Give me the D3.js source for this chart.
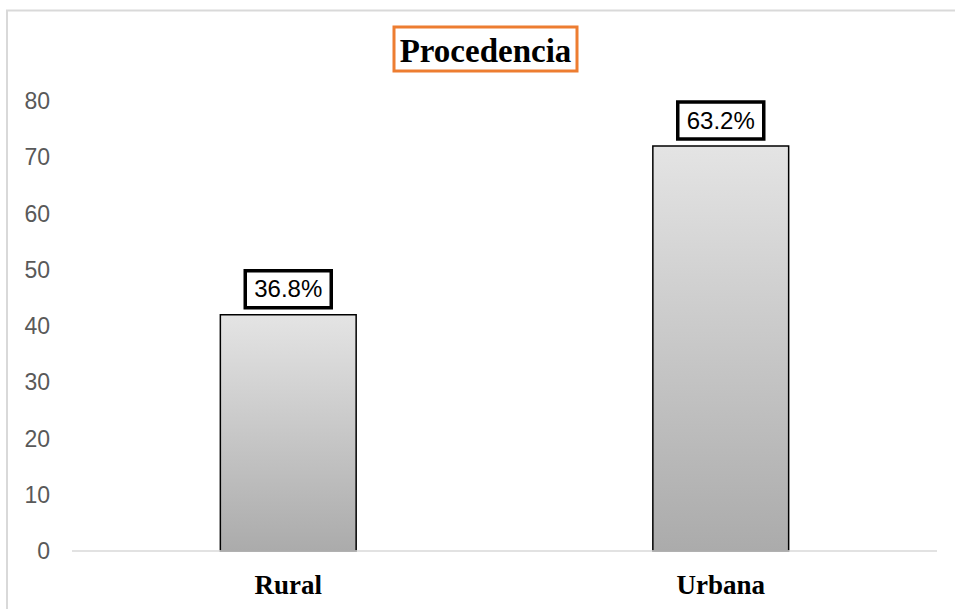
<!DOCTYPE html>
<html><head><meta charset="utf-8">
<script src="https://cdn.jsdelivr.net/npm/d3@7"></script>
<style>body{margin:0;background:#fff}svg{display:block}</style>
</head><body>
<script>
const categories = ["Rural", "Urbana"];
const values = [42, 72];
const labels = ["36.8%", "63.2%"];
const yTicks = [0, 10, 20, 30, 40, 50, 60, 70, 80];
const title = "Procedencia";

const W = 955, H = 609;
const svg = d3.select("body").append("svg").attr("width", W).attr("height", H);

const defs = svg.append("defs");
const grad = defs.append("linearGradient").attr("id", "g").attr("x1", 0).attr("y1", 0).attr("x2", 0).attr("y2", 1);
grad.append("stop").attr("offset", "0%").attr("stop-color", "#e4e4e4");
grad.append("stop").attr("offset", "100%").attr("stop-color", "#ababab");

// chart border
svg.append("rect").attr("x", 7).attr("y", 10.5).attr("width", 960).attr("height", 620)
  .attr("fill", "none").attr("stroke", "#d9d9d9").attr("stroke-width", 2);

const x = d3.scaleBand().domain(categories).range([72, 937]).paddingInner(0.686).paddingOuter(0.343);
const y = d3.scaleLinear().domain([0, 80]).range([551, 101]);

// y tick labels
svg.append("g").selectAll("text").data(yTicks).join("text")
  .attr("x", 50).attr("y", d => y(d)).attr("dy", "0.35em")
  .attr("text-anchor", "end").attr("font-family", "Liberation Sans, Arial, sans-serif")
  .attr("font-size", 23).attr("fill", "#595959").text(d => d);

// bars
svg.append("g").selectAll("rect").data(values).join("rect")
  .attr("x", (d, i) => x(categories[i])).attr("y", d => y(d))
  .attr("width", x.bandwidth()).attr("height", d => y(0) - y(d))
  .attr("fill", "url(#g)").attr("stroke", "#000").attr("stroke-width", 1.5);

// axis line
svg.append("line").attr("x1", 72).attr("x2", 937).attr("y1", y(0)).attr("y2", y(0))
  .attr("stroke", "#d9d9d9").attr("stroke-width", 1.5);

// category labels
svg.append("g").selectAll("text").data(categories).join("text")
  .attr("x", d => x(d) + x.bandwidth() / 2).attr("y", 585).attr("dy", "0.35em")
  .attr("text-anchor", "middle").attr("font-family", "Liberation Serif, Times New Roman, serif")
  .attr("font-weight", "bold").attr("font-size", 27).attr("fill", "#000").text(d => d);

// value labels
const lg = svg.append("g").selectAll("g").data(values).join("g")
  .attr("transform", (d, i) => `translate(${x(categories[i]) + x.bandwidth() / 2},${y(d) - 26})`);
lg.append("rect").attr("x", -43).attr("y", -18).attr("width", 86).attr("height", 37)
  .attr("fill", "#fff").attr("stroke", "#000").attr("stroke-width", 3.5);
lg.append("text").attr("text-anchor", "middle").attr("dy", "0.36em")
  .attr("font-family", "Liberation Sans, Arial, sans-serif").attr("font-size", 24)
  .attr("fill", "#000").text((d, i) => labels[i]);

// title
svg.append("rect").attr("x", 394).attr("y", 27).attr("width", 183).attr("height", 44)
  .attr("fill", "#fff").attr("stroke", "#ED7D31").attr("stroke-width", 3);
svg.append("text").attr("x", 485.5).attr("y", 50).attr("dy", "0.35em").attr("text-anchor", "middle")
  .attr("font-family", "Liberation Serif, Times New Roman, serif").attr("font-weight", "bold")
  .attr("font-size", 33).attr("fill", "#000").text(title);
</script>
</body></html>
